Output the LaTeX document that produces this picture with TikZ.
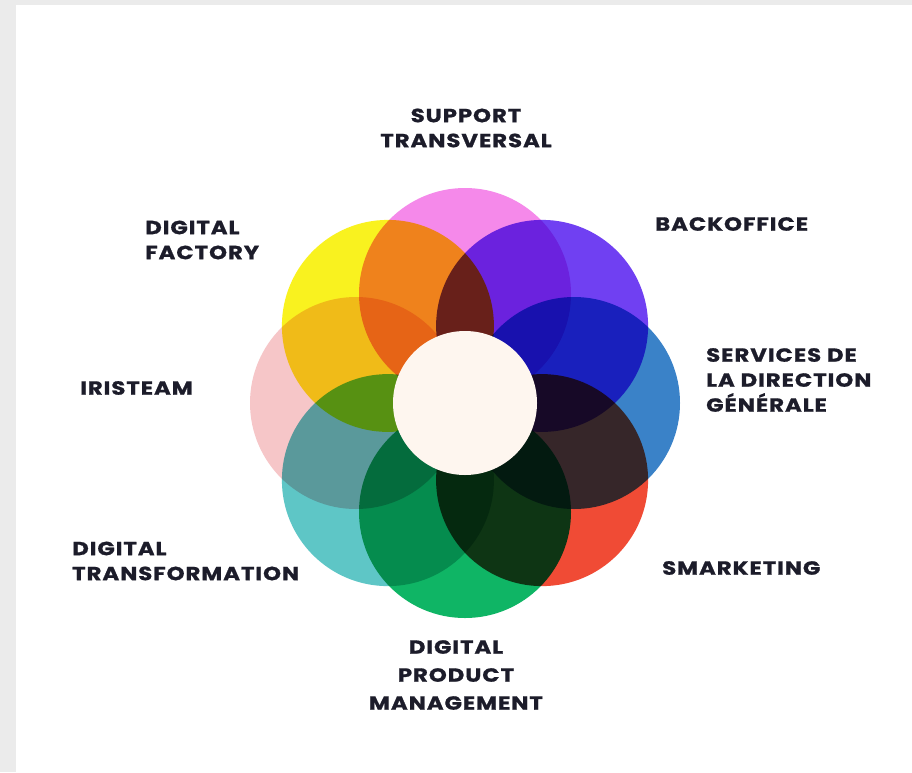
\documentclass[tikz,border=0pt]{standalone}
\usepackage{fontspec}
\setmainfont{Poppins}
\newfontfamily\lblfont{Poppins}[FakeStretch=1.2, LetterSpace=5, BoldFeatures={FakeBold=1}]
\definecolor{bggray}{HTML}{EBEBEB}
\definecolor{cTop}{HTML}{F589EA}
\definecolor{cUR}{HTML}{7040F2}
\definecolor{cR}{HTML}{3A82C8}
\definecolor{cLR}{HTML}{F04B35}
\definecolor{cB}{HTML}{0FB565}
\definecolor{cLL}{HTML}{5EC6C6}
\definecolor{cL}{HTML}{F6C6C8}
\definecolor{cUL}{HTML}{F9F21F}
\definecolor{cCenter}{HTML}{FEF6EF}
\definecolor{txt}{HTML}{1C1C2A}
\tikzset{
  petal/.style={circle, minimum size=212pt, inner sep=0pt, draw=none, blend mode=multiply},
  hub/.style={circle, minimum size=144pt, inner sep=0pt, draw=none, fill=cCenter},
  lbl/.style={inner sep=0pt, text=txt, font=\lblfont\bfseries\fontsize{19}{25}\selectfont},
}
\begin{document}
\begin{tikzpicture}[x=1pt,y=-1pt]
\useasboundingbox (0,0) rectangle (912,772);
\fill[bggray] (0,0) rectangle (912,772);
\fill[white] (16,5) rectangle (912,772);
\node[petal, fill=cTop] (c1) at (465,294) {};
\node[petal, fill=cUR] (c2) at (542.1,325.9) {};
\node[petal, fill=cR] (c3) at (574,403) {};
\node[petal, fill=cLR] (c4) at (542.1,480.1) {};
\node[petal, fill=cB] (c5) at (465,512) {};
\node[petal, fill=cLL] (c6) at (387.9,480.1) {};
\node[petal, fill=cL] (c7) at (356,403) {};
\node[petal, fill=cUL] (c8) at (387.9,325.9) {};
\node[hub] (c0) at (465,403) {};
\node[lbl, align=center] (l1) at (466,128) {SUPPORT\\TRANSVERSAL};
\node[lbl, anchor=west] (l2) at (655,224) {BACKOFFICE};
\node[lbl, anchor=west, align=left] (l3) at (706,380) {SERVICES DE\\LA DIRECTION\\GÉNÉRALE};
\node[lbl, anchor=west] (l4) at (662,568) {SMARKETING};
\node[lbl, align=center, font=\lblfont\bfseries\fontsize{19}{28}\selectfont] (l5) at (456,675) {DIGITAL\\PRODUCT\\MANAGEMENT};
\node[lbl, anchor=west, align=left] (l6) at (72,561) {DIGITAL\\TRANSFORMATION};
\node[lbl, anchor=west] (l7) at (80,388) {IRISTEAM};
\node[lbl, anchor=west, align=left] (l8) at (145,240) {DIGITAL\\FACTORY};
\end{tikzpicture}
\end{document}
